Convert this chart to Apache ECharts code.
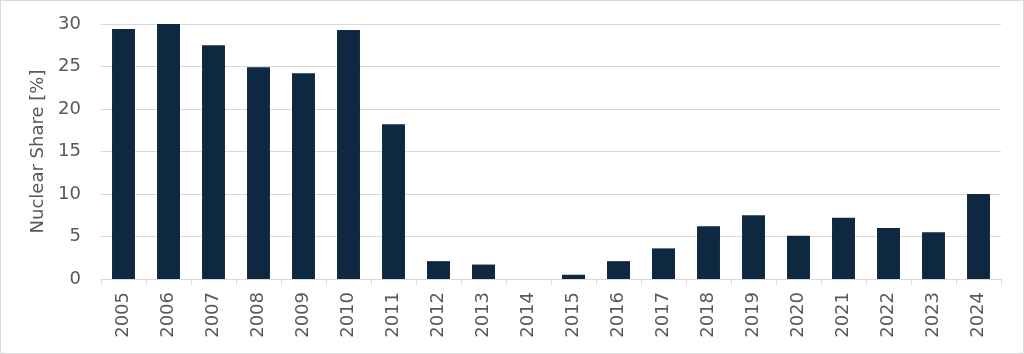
<!DOCTYPE html>
<html>
<head>
<meta charset="utf-8">
<script src="https://cdn.jsdelivr.net/npm/echarts@6/dist/echarts.min.js"></script>
<style>
html,body{margin:0;padding:0;background:#fff;}
#c{width:1022px;height:352px;border:1px solid #d9d9d9;}
</style>
</head>
<body>
<div id="c"></div>
<script>
const categories = ['2005','2006','2007','2008','2009','2010','2011','2012','2013','2014','2015','2016','2017','2018','2019','2020','2021','2022','2023','2024'];
const nuclearShare = [29.4, 30.0, 27.5, 24.9, 24.2, 29.3, 18.2, 2.1, 1.7, 0, 0.5, 2.1, 3.6, 6.2, 7.5, 5.1, 7.2, 6.0, 5.5, 10.0];
const yTicks = {min: 0, max: 30, interval: 5};
const yName = 'Nuclear Share [%]';

const chart = echarts.init(document.getElementById('c'), null, {renderer: 'canvas'});
chart.setOption({
  animation: false,
  textStyle: {fontFamily: 'DejaVu Sans, sans-serif'},
  grid: {left: 100, right: 22, top: 23, bottom: 74},
  xAxis: {
    type: 'category',
    data: categories,
    boundaryGap: true,
    axisLine: {lineStyle: {color: '#d9d9d9', width: 1}},
    axisTick: {show: true, length: 6, lineStyle: {color: '#d9d9d9'}, alignWithLabel: false},
    axisLabel: {rotate: 90, color: '#595959', fontSize: 18, margin: 13}
  },
  yAxis: {
    type: 'value',
    min: yTicks.min, max: yTicks.max, interval: yTicks.interval,
    name: yName,
    nameLocation: 'middle',
    nameGap: 48,
    nameTextStyle: {color: '#595959', fontSize: 18},
    axisLine: {show: false},
    axisTick: {show: false},
    splitLine: {lineStyle: {color: '#d9d9d9', width: 1}},
    axisLabel: {color: '#595959', fontSize: 18, margin: 20}
  },
  series: [{
    type: 'bar',
    data: nuclearShare,
    barWidth: '51%',
    itemStyle: {color: '#0e2841'}
  }]
});
</script>
</body>
</html>
